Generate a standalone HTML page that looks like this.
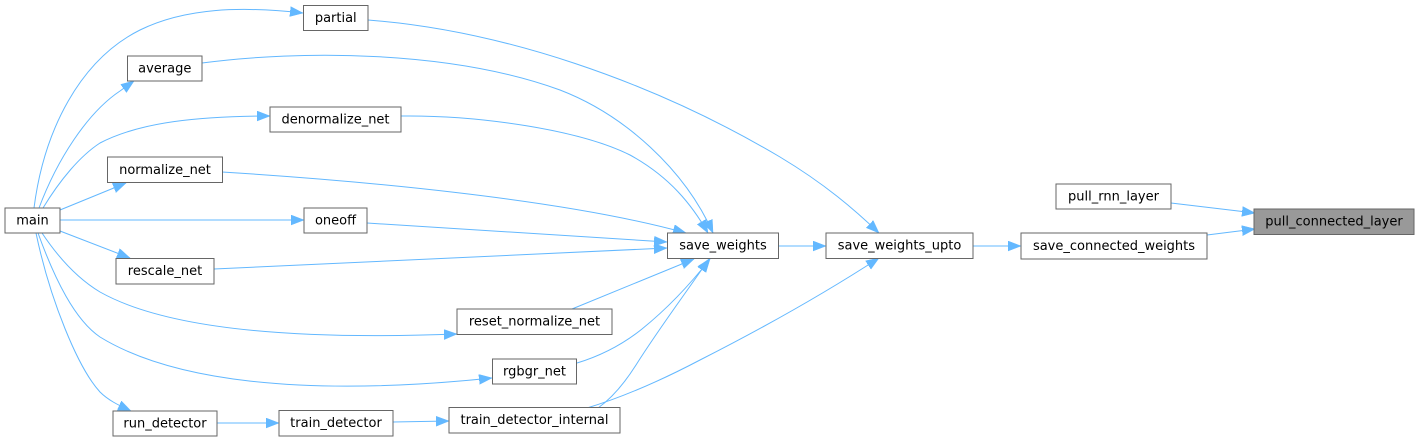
<!DOCTYPE html>
<html>
<head>
<meta charset="utf-8">
<style>
  html,body{margin:0;padding:0;background:#fff;}
  svg{display:block;}
  text{font-family:"DejaVu Sans","Liberation Sans",sans-serif;font-size:13px;fill:#000;}
</style>
</head>
<body>
<svg width="1420" height="441" viewBox="0 0 1420 441" xmlns="http://www.w3.org/2000/svg">
  <defs>
    <marker id="a" markerWidth="14" markerHeight="11" refX="13" refY="5" orient="auto" markerUnits="userSpaceOnUse">
      <path d="M0,0 L13,5 L0,10 z" fill="#63b8ff" stroke="#63b8ff" stroke-width="0.5"/>
    </marker>
  </defs>
  <g fill="none" stroke="#63b8ff" stroke-width="1" marker-end="url(#a)">
    <!-- main -> partial -->
    <path d="M34,208 C44,130 80,60 140,30 C185,8 240,6 303,13"/>
    <!-- main -> average -->
    <path d="M39,208 C57,160 87,113 120,91 L134,81"/>
    <!-- main -> denormalize_net -->
    <path d="M43,208 C60,180 80,156 100,143 C140,122 200,116 270,116"/>
    <!-- main -> normalize_net -->
    <path d="M60,210 L126,183"/>
    <!-- main -> oneoff -->
    <path d="M60,220 L304,220"/>
    <!-- main -> rescale_net -->
    <path d="M60,231 L130,258"/>
    <!-- main -> reset_normalize_net -->
    <path d="M42,233 C60,260 80,280 100,292 C150,320 250,342 457,334"/>
    <!-- main -> rgbgr_net -->
    <path d="M38,233 C55,280 75,320 100,337 C170,380 300,398 492,378"/>
    <!-- main -> run_detector -->
    <path d="M36,233 C50,300 78,368 100,392 C108,400 118,405 131,411"/>
    <!-- run_detector -> train_detector -->
    <path d="M217,423 L279,423"/>
    <!-- train_detector -> train_detector_internal -->
    <path d="M393,422 L449,421"/>
    <!-- partial -> save_weights_upto -->
    <path d="M368,20 C500,30 650,80 780,157 C825,184 855,210 879,233"/>
    <!-- average -> save_weights -->
    <path d="M202,63 C300,50 450,50 560,90 C625,115 685,170 713,233"/>
    <!-- denormalize_net -> save_weights -->
    <path d="M401,116 C480,115 580,130 630,155 C670,177 692,205 708,233"/>
    <!-- normalize_net -> save_weights -->
    <path d="M222,172 C350,180 560,198 686,233"/>
    <!-- oneoff -> save_weights -->
    <path d="M367,223 L667,242"/>
    <!-- rescale_net -> save_weights -->
    <path d="M214,269 L667,248"/>
    <!-- reset_normalize_net -> save_weights -->
    <path d="M572,309 L694,259"/>
    <!-- rgbgr_net -> save_weights -->
    <path d="M577,363 C600,356 622,345 642,329 C668,308 692,282 710,259"/>
    <!-- train_detector_internal -> save_weights -->
    <path d="M598,408 C612,398 624,384 636,365 C660,327 688,290 709,259"/>
    <!-- train_detector_internal -> save_weights_upto -->
    <path d="M587,408 C620,398 660,381 700,360 C765,327 825,293 879,258"/>
    <!-- save_weights -> save_weights_upto -->
    <path d="M779,246 L826,246"/>
    <!-- save_weights_upto -> save_connected_weights -->
    <path d="M973,246 L1021,246"/>
    <!-- save_connected_weights -> pull_connected_layer -->
    <path d="M1207,235 L1255,229"/>
    <!-- pull_rnn_layer -> pull_connected_layer -->
    <path d="M1171,203 L1255,213"/>
  </g>

  <g stroke="#666666" stroke-width="1" fill="#ffffff">
    <rect x="303.5" y="5.5" width="64.5" height="25"/>
    <rect x="127.5" y="56" width="74.5" height="25"/>
    <rect x="270" y="107" width="131" height="25"/>
    <rect x="107.5" y="157" width="115" height="25.5"/>
    <rect x="5" y="208" width="55" height="25"/>
    <rect x="304" y="208" width="63" height="25"/>
    <rect x="116" y="258.5" width="98" height="25.5"/>
    <rect x="457" y="309" width="155" height="25.5"/>
    <rect x="492.5" y="359" width="84" height="25"/>
    <rect x="449" y="407.5" width="171" height="25.5"/>
    <rect x="113" y="411" width="104" height="25"/>
    <rect x="279" y="410.5" width="114" height="25.5"/>
    <rect x="667.5" y="233" width="111" height="25.5"/>
    <rect x="826" y="233" width="147" height="25.5"/>
    <rect x="1021" y="233" width="186" height="26"/>
    <rect x="1056" y="184" width="115" height="25"/>
    <rect x="1254" y="209" width="160" height="25.5" fill="#999999"/>
  </g>

  <g text-anchor="middle">
    <text x="335.75" y="22">partial</text>
    <text x="164.75" y="72.5">average</text>
    <text x="335.5" y="123.5">denormalize_net</text>
    <text x="165" y="174">normalize_net</text>
    <text x="32.5" y="224.5">main</text>
    <text x="335.5" y="224.5">oneoff</text>
    <text x="165" y="275">rescale_net</text>
    <text x="534.5" y="325.5">reset_normalize_net</text>
    <text x="534.5" y="375.5">rgbgr_net</text>
    <text x="534.5" y="424">train_detector_internal</text>
    <text x="165" y="427.5">run_detector</text>
    <text x="336" y="427">train_detector</text>
    <text x="723" y="249.5">save_weights</text>
    <text x="899.5" y="249.5">save_weights_upto</text>
    <text x="1114" y="250">save_connected_weights</text>
    <text x="1113.5" y="200.5">pull_rnn_layer</text>
    <text x="1334" y="225.5">pull_connected_layer</text>
  </g>
</svg>
</body>
</html>
